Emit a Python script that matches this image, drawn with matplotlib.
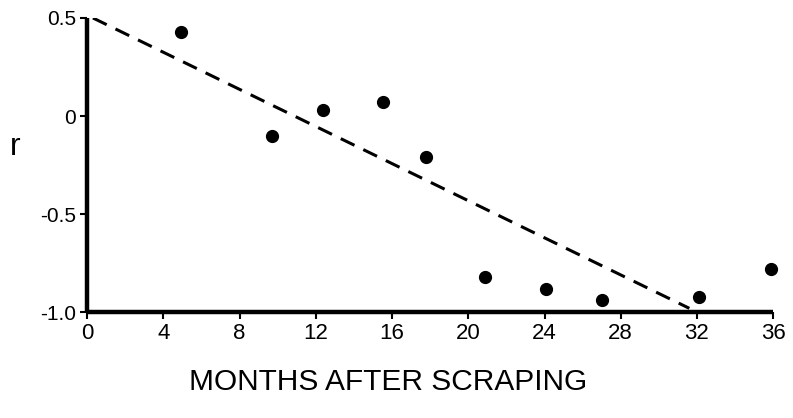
import numpy as np
import matplotlib.pyplot as plt

plt.rcParams['font.family'] = ['Liberation Sans', 'DejaVu Sans']

# correlation r vs months after scraping
months = [4.9, 9.7, 12.4, 15.5, 17.8, 20.9, 24.1, 27.0, 32.1, 35.9]
r_vals = [0.43, -0.10, 0.03, 0.07, -0.21, -0.82, -0.88, -0.94, -0.92, -0.78]

# dashed regression line end points
fit_x = [0.3, 31.6]
fit_y = [0.5, -0.98]

xticks = [0, 4, 8, 12, 16, 20, 24, 28, 32, 36]
yticks = [0.5, 0, -0.5, -1.0]
ytick_labels = ["0.5", "0", "-0.5", "-1.0"]

fig = plt.figure(figsize=(7.93, 4.18), dpi=100)
ax = fig.add_axes([0.11, 0.253, 0.865, 0.704])

ax.plot(fit_x, fit_y, color='black', lw=2.2, dashes=(5, 3.2))
ax.plot(months, r_vals, 'o', color='black', ms=8.5, clip_on=False)

ax.set_xlim(0, 36)
ax.set_ylim(-1.0, 0.5)
ax.set_xticks(xticks)
ax.set_xticklabels([str(t) for t in xticks])
ax.set_yticks(yticks)
ax.set_yticklabels(ytick_labels)

for s in ['top', 'right']:
    ax.spines[s].set_visible(False)
for s in ['left', 'bottom']:
    ax.spines[s].set_linewidth(3.2)
    ax.spines[s].set_capstyle('butt')

ax.tick_params(axis='both', direction='out', length=5, width=1.5,
               labelsize=15, pad=3, color='black')
ax.tick_params(axis='x', labelsize=16, pad=3)

ax.set_xlabel("MONTHS AFTER SCRAPING", fontsize=21.5, va='center')
ax.xaxis.set_label_coords(0.439, -0.238)
ax.set_ylabel("r", fontsize=23, rotation=0, ha='center', va='center')
ax.yaxis.set_label_coords(-0.105, 0.56)

fig.savefig("out.png", dpi=100, facecolor='white')
